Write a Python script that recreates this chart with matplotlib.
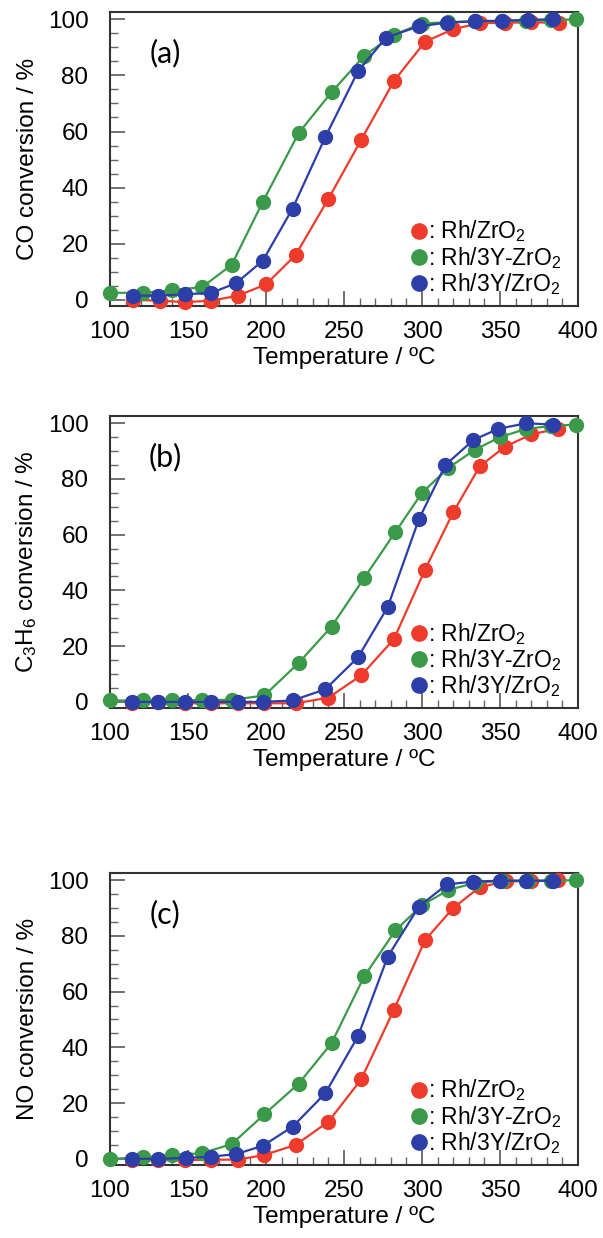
import matplotlib
matplotlib.use("Agg")
import matplotlib.pyplot as plt
from matplotlib.lines import Line2D
from matplotlib.ticker import MultipleLocator

plt.rcParams["font.family"] = ["Liberation Sans", "DejaVu Sans"]
plt.rcParams["mathtext.default"] = "regular"

# catalysts and colours
catalysts = ["Rh/ZrO$_2$", "Rh/3Y-ZrO$_2$", "Rh/3Y/ZrO$_2$"]
colors = ["#ef3b2b", "#3b9a4a", "#2c3ea8"]

# (a) CO conversion
co_T_rh = [115, 132, 148, 165, 182, 200, 219, 240, 261, 282, 302, 320, 337, 353, 370, 388]
co_rh = [0.0, -0.3, -0.8, -0.3, 1.5, 5.5, 16, 36, 57, 78, 92, 96.5, 98.6, 98.8, 98.9, 98.8]
co_T_3ymix = [100, 121, 140, 159, 178, 198, 221, 242, 263, 282, 300, 317, 334, 351, 367, 383, 399]
co_3ymix = [2.5, 2.5, 3.5, 4.5, 12.5, 35, 59.5, 74, 87, 94.5, 98.5, 99, 99.3, 99.4, 99.4, 99.7, 100]
co_T_3ysup = [115, 131, 148, 165, 181, 198, 217, 238, 259, 277, 298, 316, 334, 351, 368, 384]
co_3ysup = [1.5, 1.5, 2, 2.5, 6, 14, 32.5, 58, 81.5, 93.5, 97.5, 98.8, 99.3, 99.5, 99.8, 100]

# (b) C3H6 conversion
c3_T_rh = [114, 131, 148, 165, 182, 199, 219, 240, 261, 282, 302, 320, 337, 353, 370, 387]
c3_rh = [-0.5, 0, -0.5, -0.5, -0.5, -0.5, -0.5, 1.5, 9.5, 22.5, 47.5, 68, 84.5, 91.5, 96, 98]
c3_T_3ymix = [100, 121, 140, 159, 178, 199, 221, 242, 263, 283, 300, 317, 334, 350, 367, 383, 399]
c3_3ymix = [0.5, 0.5, 0.5, 0.7, 0.7, 2.3, 14, 27, 44.5, 61, 75, 84, 90.5, 95, 98, 99, 99.5]
c3_T_3ysup = [114, 131, 148, 165, 182, 198, 217, 238, 259, 278, 298, 315, 333, 349, 367, 384]
c3_3ysup = [0, 0, 0, 0, 0, 0, 0.5, 4.5, 16, 34, 65.5, 85, 94, 98, 100, 99.5]

# (c) NO conversion
no_T_rh = [114, 131, 148, 165, 182, 199, 219, 240, 261, 282, 302, 320, 337, 354, 370, 387]
no_rh = [-0.5, -0.5, -0.5, -0.3, -0.3, 1.4, 5, 13.3, 28.5, 53.5, 78.5, 90, 97.5, 99.6, 99.6, 99.9]
no_T_3ymix = [100, 121, 140, 159, 178, 199, 221, 242, 263, 283, 300, 317, 334, 351, 368, 383, 399]
no_3ymix = [0, 0.5, 1.4, 2, 5.3, 16, 27, 41.5, 65.5, 82, 91, 96.5, 99, 99.8, 99.8, 99.8, 100]
no_T_3ysup = [114, 131, 149, 165, 181, 198, 217, 238, 259, 278, 298, 316, 333, 350, 367, 384]
no_3ysup = [0, 0, 0.3, 0.8, 1.7, 4.7, 11.5, 23.5, 44, 72.5, 90.5, 98.5, 99.5, 99.8, 99.8, 99.8]

panels = [
    ("(a)", "CO conversion / %",
     [(co_T_rh, co_rh), (co_T_3ymix, co_3ymix), (co_T_3ysup, co_3ysup)]),
    ("(b)", "C$_3$H$_6$ conversion / %",
     [(c3_T_rh, c3_rh), (c3_T_3ymix, c3_3ymix), (c3_T_3ysup, c3_3ysup)]),
    ("(c)", "NO conversion / %",
     [(no_T_rh, no_rh), (no_T_3ymix, no_3ymix), (no_T_3ysup, no_3ysup)]),
]

# axes rectangles in figure fractions
boxes = [
    [0.1824, 0.7528, 0.7761, 0.2375],
    [0.1824, 0.4281, 0.7761, 0.2359],
    [0.1824, 0.0590, 0.7761, 0.2359],
]

fig = plt.figure(figsize=(6.03, 12.38), dpi=100)
fs = 17.5

for (tag, ylabel, series), box in zip(panels, boxes):
    ax = fig.add_axes(box)
    # red first, then blue, green on top
    for i in [0, 2, 1]:
        T, v = series[i]
        ax.plot(T, v, color=colors[i], lw=1.6, marker="o", ms=10,
                mec=colors[i], mfc=colors[i], clip_on=False, zorder=3 + i)

    ax.set_xlim(100, 400)
    ax.set_ylim(-2.2, 102.6)
    ax.xaxis.set_major_locator(MultipleLocator(50))
    ax.xaxis.set_minor_locator(MultipleLocator(10))
    ax.yaxis.set_major_locator(MultipleLocator(20))
    ax.yaxis.set_minor_locator(MultipleLocator(5))
    ax.tick_params(which="both", direction="in", top=False, right=False,
                   color="#666666", labelsize=fs)
    ax.tick_params(which="major", length=11, width=1.3)
    ax.tick_params(which="minor", length=5.5, width=1.0)
    ax.tick_params(axis="y", pad=15.5)
    ax.tick_params(axis="x", pad=10.5)
    for s in ax.spines.values():
        s.set_linewidth(1.5)
        s.set_color("#333333")

    ax.set_xlabel("Temperature / \u00baC", fontsize=fs, labelpad=3)
    ax.set_ylabel(ylabel, fontsize=fs, labelpad=6)

    ax.text(0.1175, 0.86, tag, transform=ax.transAxes, fontsize=22,
            family=["Lato", "DejaVu Sans"], ha="center", va="center")

    handles = [Line2D([], [], ls="none", marker="o", ms=11, color=c) for c in colors]
    ax.legend(handles, [": " + name for name in catalysts], loc="lower left",
              bbox_to_anchor=(0.645, 0.03), frameon=False, fontsize=16.5,
              handlelength=0.6, handletextpad=0.1, labelspacing=0.02,
              borderpad=0, borderaxespad=0)

fig.savefig("out.png", dpi=100)
